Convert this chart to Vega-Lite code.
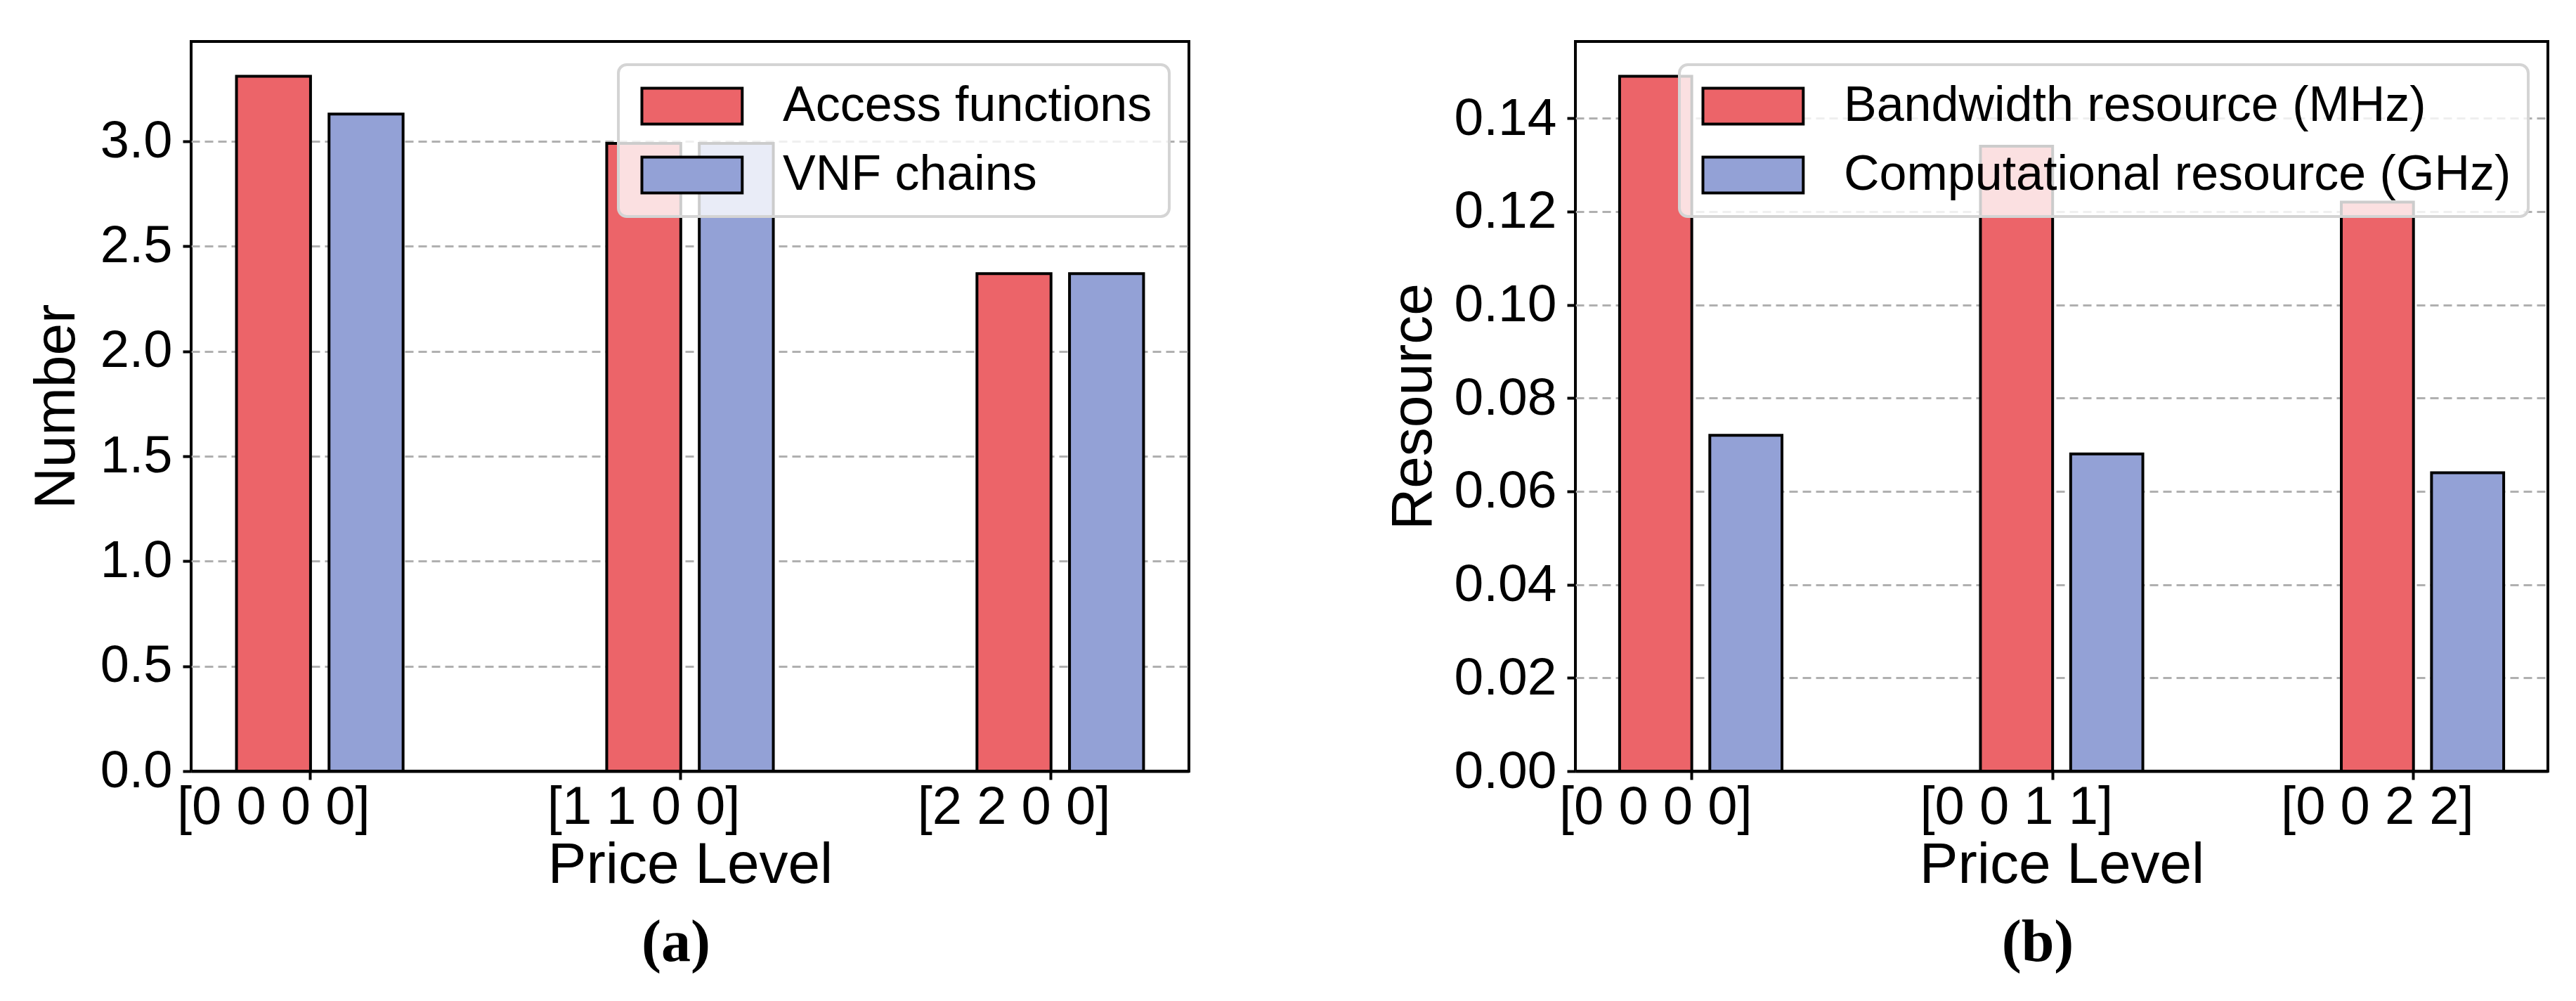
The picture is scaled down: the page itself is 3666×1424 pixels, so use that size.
{
  "$schema": "https://vega.github.io/schema/vega-lite/v6.json",
  "background": "white",
  "padding": {"left": 37, "top": 57, "right": 0, "bottom": 0},
  "spacing": 274,
  "config": {
    "view": {"stroke": "black", "strokeWidth": 4},
    "axis": {
      "domain": false,
      "ticks": true,
      "tickColor": "black",
      "tickWidth": 4,
      "tickSize": 12,
      "labelFont": "Liberation Sans",
      "labelFontSize": 74,
      "labelColor": "black",
      "labelLimit": 0,
      "labelOverlap": false,
      "titleFont": "Liberation Sans",
      "titleFontSize": 82,
      "titleFontWeight": "normal",
      "titleColor": "black"
    },
    "axisY": {"grid": true, "gridDash": [12, 7], "gridColor": "#b0b0b0", "gridWidth": 3, "labelPadding": 15, "titlePadding": 20},
    "axisX": {"grid": false, "labelAngle": 0, "labelPadding": 2, "titlePadding": 4, "labelFontSize": 76, "domain": true, "domainColor": "black", "domainWidth": 4},
    "legend": {
      "strokeWidth": 4,
      "strokeColor": "#d4d4d4",
      "fillColor": "rgba(255,255,255,0.8)",
      "cornerRadius": 12,
      "padding": 24,
      "symbolType": "M-1,-1H4.6V1H-1Z",
      "symbolSize": 2601,
      "symbolStrokeColor": "black",
      "symbolStrokeWidth": 4,
      "symbolOpacity": 1,
      "labelFont": "Liberation Sans",
      "labelFontSize": 70,
      "labelColor": "black",
      "labelOffset": 140,
      "labelLimit": 0,
      "rowPadding": 28
    },
    "title": {"font": "Liberation Serif", "fontSize": 84, "fontWeight": "bold", "color": "black"}
  },
  "hconcat": [
    {
      "width": 1420,
      "height": 1038,
      "title": {"text": "(a)", "orient": "bottom", "frame": "group", "anchor": "middle", "dx": -20, "offset": 30},
      "data": {"values": [
        {"bar": "[0 0 0 0] Access functions", "series": "Access functions", "value": 3.31},
        {"bar": "[0 0 0 0] VNF chains", "series": "VNF chains", "value": 3.13},
        {"bar": "[1 1 0 0] Access functions", "series": "Access functions", "value": 2.99},
        {"bar": "[1 1 0 0] VNF chains", "series": "VNF chains", "value": 2.99},
        {"bar": "[2 2 0 0] Access functions", "series": "Access functions", "value": 2.37},
        {"bar": "[2 2 0 0] VNF chains", "series": "VNF chains", "value": 2.37}
      ]},
      "mark": {"type": "bar", "stroke": "black", "strokeWidth": 4, "opacity": 1},
      "encoding": {
        "x": {
          "field": "bar", "type": "nominal",
          "scale": {
            "domain": ["[0 0 0 0] Access functions", "[0 0 0 0] VNF chains", "~1", "~2", "[1 1 0 0] Access functions", "[1 1 0 0] VNF chains", "~3", "~4", "[2 2 0 0] Access functions", "[2 2 0 0] VNF chains"],
            "paddingInner": 0.2, "paddingOuter": 0.49
          },
          "axis": {
            "title": "Price Level",
            "values": ["[0 0 0 0] Access functions", "[1 1 0 0] Access functions", "[2 2 0 0] Access functions"],
            "bandPosition": 1,
            "labelExpr": "slice(datum.value, 0, 9)"
          }
        },
        "y": {
          "field": "value", "type": "quantitative", "stack": null,
          "scale": {"domain": [0, 3.4755], "nice": false, "zero": true},
          "axis": {"title": "Number", "values": [0, 0.5, 1.0, 1.5, 2.0, 2.5, 3.0], "format": ".1f"}
        },
        "color": {
          "field": "series", "type": "nominal",
          "scale": {"domain": ["Access functions", "VNF chains"], "range": ["#EC6469", "#93A1D6"]},
          "legend": {"title": null, "orient": "none", "legendX": 608, "legendY": 33}
        }
      }
    },
    {
      "width": 1384,
      "height": 1038,
      "title": {"text": "(b)", "orient": "bottom", "frame": "group", "anchor": "middle", "dx": -34, "offset": 30},
      "data": {"values": [
        {"bar": "[0 0 0 0] Bandwidth resource (MHz)", "series": "Bandwidth resource (MHz)", "value": 0.149},
        {"bar": "[0 0 0 0] Computational resource (GHz)", "series": "Computational resource (GHz)", "value": 0.072},
        {"bar": "[0 0 1 1] Bandwidth resource (MHz)", "series": "Bandwidth resource (MHz)", "value": 0.134},
        {"bar": "[0 0 1 1] Computational resource (GHz)", "series": "Computational resource (GHz)", "value": 0.068},
        {"bar": "[0 0 2 2] Bandwidth resource (MHz)", "series": "Bandwidth resource (MHz)", "value": 0.122},
        {"bar": "[0 0 2 2] Computational resource (GHz)", "series": "Computational resource (GHz)", "value": 0.064}
      ]},
      "mark": {"type": "bar", "stroke": "black", "strokeWidth": 4, "opacity": 1},
      "encoding": {
        "x": {
          "field": "bar", "type": "nominal",
          "scale": {
            "domain": ["[0 0 0 0] Bandwidth resource (MHz)", "[0 0 0 0] Computational resource (GHz)", "~1", "~2", "[0 0 1 1] Bandwidth resource (MHz)", "[0 0 1 1] Computational resource (GHz)", "~3", "~4", "[0 0 2 2] Bandwidth resource (MHz)", "[0 0 2 2] Computational resource (GHz)"],
            "paddingInner": 0.2, "paddingOuter": 0.49
          },
          "axis": {
            "title": "Price Level",
            "values": ["[0 0 0 0] Bandwidth resource (MHz)", "[0 0 1 1] Bandwidth resource (MHz)", "[0 0 2 2] Bandwidth resource (MHz)"],
            "bandPosition": 1,
            "labelExpr": "slice(datum.value, 0, 9)"
          }
        },
        "y": {
          "field": "value", "type": "quantitative", "stack": null,
          "scale": {"domain": [0, 0.15645], "nice": false, "zero": true},
          "axis": {"title": "Resource", "values": [0, 0.02, 0.04, 0.06, 0.08, 0.10, 0.12, 0.14], "format": ".2f", "labelFontSize": 75, "titlePadding": 16}
        },
        "color": {
          "field": "series", "type": "nominal",
          "scale": {"domain": ["Bandwidth resource (MHz)", "Computational resource (GHz)"], "range": ["#EC6469", "#93A1D6"]},
          "legend": {"title": null, "orient": "none", "legendX": 148, "legendY": 33}
        }
      }
    }
  ],
  "resolve": {"scale": {"color": "independent"}}
}
